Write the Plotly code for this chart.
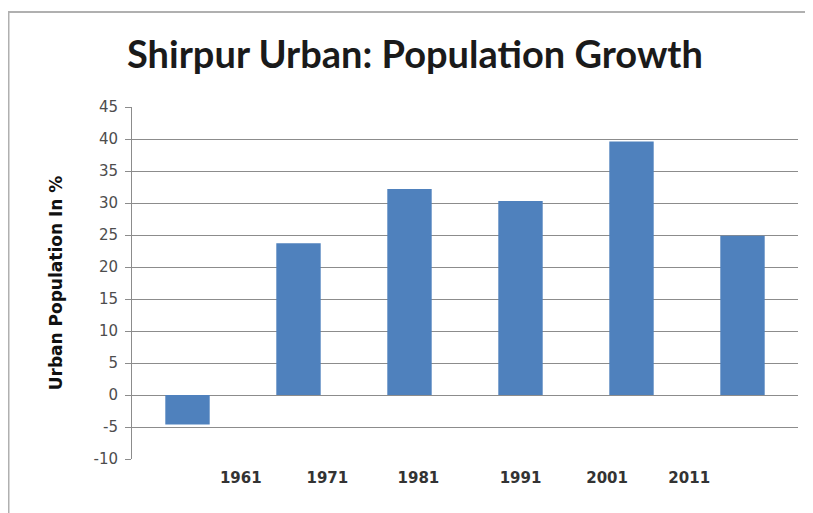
import plotly.graph_objects as go

years = ["1961", "1971", "1981", "1991", "2001", "2011"]
growth = [-4.6, 23.7, 32.2, 30.3, 39.6, 24.9]
y_ticks = [-10, -5, 0, 5, 10, 15, 20, 25, 30, 35, 40, 45]
y_tick_text = [str(v) for v in y_ticks]

# label offsets (in category units) reproducing the misaligned Excel labels
label_pos = [0.48, 1.26, 2.08, 3.0, 3.78, 4.52]

bar_x = list(range(len(years)))

fig = go.Figure()
fig.add_trace(go.Bar(
    x=bar_x, y=growth, width=0.4,
    marker=dict(color="#4F81BD", line=dict(width=0)),
    hovertext=years, name="Growth",
))

# page is drawn with an 8px body margin
W, H = 805, 505
L, R, T, B = 124, 15, 99, 54
PW, PH = W - L - R, H - T - B


def px_x(p):
    return (p - L) / PW


def px_y(p):
    return (H - B - p) / PH


fig.update_layout(
    width=W, height=H,
    margin=dict(l=L, r=R, t=T, b=B),
    paper_bgcolor="white", plot_bgcolor="white",
    showlegend=False,
    title=dict(text="<b>Shirpur Urban: Population Growth</b>",
               x=407 / W, xanchor="center", y=1 - 47 / H, yanchor="middle",
               font=dict(family="Lato", size=38, color="#1a1a1a")),
    xaxis=dict(range=[-0.5, 5.5], tickmode="array", tickvals=label_pos, ticktext=years,
               showgrid=False, zeroline=False, showline=False, ticks="",
               tickfont=dict(family="DejaVu Sans", size=15, color="#333333",
                             weight="bold"),
               ticklabelstandoff=8),
    yaxis=dict(range=[-10, 45], tickmode="array", tickvals=y_ticks, ticktext=y_tick_text,
               showgrid=True, gridcolor="#8c8c8c", gridwidth=1,
               zeroline=True, zerolinecolor="#8c8c8c", zerolinewidth=1,
               showline=True, linecolor="#8c8c8c", linewidth=1,
               ticks="outside", ticklen=6, tickcolor="#8c8c8c",
               ticklabelstandoff=4,
               tickfont=dict(family="DejaVu Sans", size=15, color="#4d4d4d"),
               title=dict(text="<b>Urban Population In %</b>",
                          font=dict(family="DejaVu Sans", size=17, color="#111111"),
                          standoff=26)),
    shapes=[
        dict(type="line", xref="paper", yref="paper",
             x0=px_x(0), x1=px_x(W), y0=px_y(4), y1=px_y(4),
             line=dict(color="#b0b0b0", width=2)),
        dict(type="line", xref="paper", yref="paper",
             x0=px_x(0.5), x1=px_x(0.5), y0=px_y(4), y1=px_y(H),
             line=dict(color="#b0b0b0", width=2)),
    ],
)

fig.write_html("out.html")
